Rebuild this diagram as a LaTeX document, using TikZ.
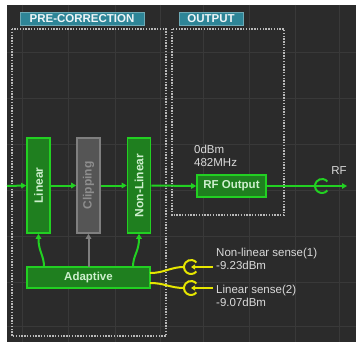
\documentclass[tikz,border=0pt]{standalone}
\usepackage{fontspec}
\setmainfont{Liberation Sans}
\usetikzlibrary{arrows.meta}
\definecolor{bgc}{HTML}{2B2B2B}
\definecolor{gridc}{HTML}{393939}
\definecolor{gline}{HTML}{22D022}
\definecolor{gfill}{HTML}{1F7F1F}
\definecolor{gtextc}{HTML}{CDEFCD}
\definecolor{cfill}{HTML}{555555}
\definecolor{cdraw}{HTML}{7F7F7F}
\definecolor{ctext}{HTML}{8E8E8E}
\definecolor{tabc}{HTML}{2E8597}
\definecolor{yel}{HTML}{E6E600}
\definecolor{lblc}{HTML}{DADADA}
\tikzset{
  dashbox/.style={draw=lblc!85!black, line width=1.1pt, dash pattern=on 1.4pt off 1.4pt},
  tabbox/.style={fill=tabc, draw=tabc!70!white, line width=0.6pt, text=white!92!tabc, font=\bfseries\fontsize{11.5}{12}\selectfont, inner sep=0pt},
  gbox/.style={fill=gfill, draw=gline, line width=1.6pt, text=gtextc, font=\bfseries\fontsize{11.5}{12}\selectfont, inner sep=0pt},
  cbox/.style={fill=cfill, draw=cdraw, line width=1.6pt, text=ctext, font=\bfseries\fontsize{11.5}{12}\selectfont, inner sep=0pt},
  vtxt/.style={rotate=90, font=\bfseries\fontsize{12}{12}\selectfont, inner sep=0pt},
  garrow/.style={draw=gline, line width=2pt, -{Triangle[length=5pt,width=5.5pt]}},
  glink/.style={draw=gline, line width=2pt},
  carrow/.style={draw=cdraw, line width=2pt, -{Triangle[length=5pt,width=5.5pt]}},
  ylink/.style={draw=yel, line width=2pt},
  yarrow/.style={draw=yel, line width=2pt, -{Triangle[length=4pt,width=5pt]}},
  lbl/.style={text=lblc, font=\fontsize{11.5}{13}\selectfont, inner sep=0pt, align=left},
  gridl/.style={draw=gridc, line width=0.8pt}
}
\begin{document}
\begin{tikzpicture}[x=1pt,y=-1pt]
\useasboundingbox (0,0) rectangle (356,342);
\fill[white] (0,0) rectangle (356,342);
\fill[bgc] (7,5) rectangle (356,342);
% grid
\foreach \gx in {22,68,115,160,203,249,295,339} \draw[gridl] (\gx,5) -- (\gx,342);
\foreach \gy in {52,98,144,190,236,282,326} \draw[gridl] (7,\gy) -- (356,\gy);
% frames
\draw[dashbox] (12,29) rectangle (166,336);
\draw[dashbox] (172,29) rectangle (284,215);
\node[tabbox, minimum width=124pt, minimum height=13pt] (tpre) at (82,18.5) {PRE-CORRECTION};
\node[tabbox, minimum width=64pt, minimum height=13pt] (tout) at (211,18.5) {OUTPUT};
% boxes
\node[gbox, minimum width=23pt, minimum height=95pt] (lin) at (38.5,185.5) {};
\node[vtxt, text=gtextc] (lint) at (lin.center) {Linear};
\node[cbox, minimum width=23pt, minimum height=95pt] (clip) at (88.5,185.5) {};
\node[vtxt, text=ctext] (clipt) at (clip.center) {Clipping};
\node[gbox, minimum width=23pt, minimum height=95pt] (nlin) at (139,185.5) {};
\node[vtxt, text=gtextc] (nlint) at (nlin.center) {Non-Linear};
\node[gbox, minimum width=123pt, minimum height=21pt] (adp) at (88.5,277.5) {Adaptive};
\node[gbox, minimum width=69pt, minimum height=22pt] (rfo) at (231.5,186) {RF Output};
% main path
\coordinate (in) at (7,186);
\draw[garrow] (in) -- (lin.west);
\draw[garrow] (lin.east) -- (clip.west);
\draw[garrow] (clip.east) -- (nlin.west);
\draw[garrow] (nlin.east) -- (rfo.west);
% RF connector
\coordinate (rfc) at (322,186);
\coordinate (rfend) at (347,186);
\draw[glink] (rfo.east) -- (rfc);
\draw[glink] (rfc) ++(40:7) arc[start angle=40, end angle=320, radius=7];
\draw[garrow] (rfc) -- (rfend);
\node[lbl] (rfl) at (339,171) {RF};
\node[lbl, anchor=north west] (freq) at (194,145) {0dBm\\482MHz};
% adaptive feedback
\coordinate (a1) at (44,267);
\coordinate (a2) at (88.5,267);
\coordinate (a3) at (133,267);
\draw[garrow] (a1) .. controls (44,255) and (38.5,252) .. (lin.south);
\draw[carrow] (a2) -- (clip.south);
\draw[garrow] (a3) .. controls (133,255) and (139,252) .. (nlin.south);
% sense connectors
\coordinate (s1) at (191,267);
\coordinate (s2) at (191,288);
\coordinate (s1e) at (213,267);
\coordinate (s2e) at (213,288);
\coordinate (b1) at (150,273);
\coordinate (b2) at (150,283);
\coordinate (c1) at (184,267);
\coordinate (c2) at (184,288);
\draw[ylink] (b1) .. controls (165,273) and (170,267) .. (c1);
\draw[ylink] (b2) .. controls (165,283) and (170,288) .. (c2);
\draw[ylink] (s1) ++(40:7) arc[start angle=40, end angle=320, radius=7];
\draw[ylink] (s2) ++(40:7) arc[start angle=40, end angle=320, radius=7];
\draw[yarrow] (s1e) -- (s1);
\draw[yarrow] (s2e) -- (s2);
\node[lbl, anchor=north west] (sl1) at (216,248) {Non-linear sense(1)\\-9.23dBm};
\node[lbl, anchor=north west] (sl2) at (216,285) {Linear sense(2)\\-9.07dBm};
\end{tikzpicture}
\end{document}
